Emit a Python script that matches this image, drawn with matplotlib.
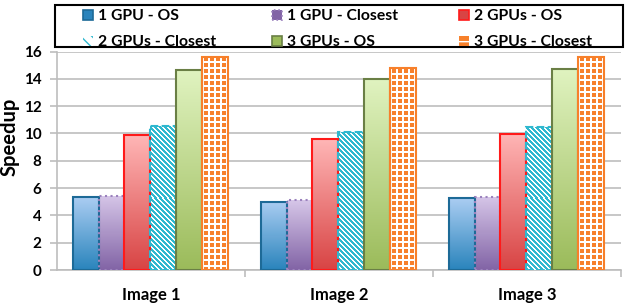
import numpy as np
import matplotlib
matplotlib.use("Agg")
import matplotlib.pyplot as plt
from matplotlib.patches import Patch, Rectangle
from matplotlib.colors import to_rgb

categories = ["Image 1", "Image 2", "Image 3"]
series_names = ["1 GPU - OS", "1 GPU - Closest", "2 GPUs - OS",
                "2 GPUs - Closest", "3 GPUs - OS", "3 GPUs - Closest"]
gpu1_os = [5.32, 5.00, 5.25]
gpu1_closest = [5.42, 5.10, 5.37]
gpu2_os = [9.88, 9.59, 9.96]
gpu2_closest = [10.56, 10.08, 10.49]
gpu3_os = [14.64, 13.96, 14.71]
gpu3_closest = [15.57, 14.76, 15.57]
series_values = [gpu1_os, gpu1_closest, gpu2_os, gpu2_closest, gpu3_os, gpu3_closest]
yticks = [0, 2, 4, 6, 8, 10, 12, 14, 16]

plt.rcParams['font.family'] = ['Lato', 'DejaVu Sans']
plt.rcParams['font.weight'] = 'bold'

W, H = 630, 307
fig = plt.figure(figsize=(W / 100, H / 100), dpi=100)
ax_l, ax_r, ax_b, ax_t = 57, 621, 270, 51.5
ax = fig.add_axes([ax_l / W, 1 - ax_b / H, (ax_r - ax_l) / W, (ax_b - ax_t) / H])
ax.set_xlim(-0.5, 2.5)
ax.set_ylim(0, 16)

px_per_x = (ax_r - ax_l) / 3.0
px_per_y = (ax_b - ax_t) / 16.0

# styles: (kind, top color, bottom color / pattern color, edge color, linestyle)
styles = [
    ("grad", "#aacdf2", "#2a84bc", "#1d6a97", "-"),
    ("grad", "#d6c6e8", "#8264a6", "#9b82bd", ":"),
    ("grad", "#ffb6b6", "#d84444", "#ff1a1a", "-"),
    ("stripe", None, "#2fb8cf", "#2fb8cf", "--"),
    ("grad", "#e0f3c0", "#9bbb5a", "#6a7f45", "-"),
    ("dots", None, "#f7802b", "#f7802b", "-"),
]

bw = 0.137
start = -0.5 + 0.085

def make_img(kind, c1, c2, hpx, wpx):
    hpx = max(int(round(hpx)), 2)
    wpx = max(int(round(wpx)), 2)
    if kind == "grad":
        a = np.array(to_rgb(c1)); b = np.array(to_rgb(c2))
        t = np.linspace(0, 1, hpx)[:, None]
        col = a[None, :] * (1 - t) + b[None, :] * t
        return np.repeat(col[:, None, :], wpx, axis=1)
    pc = np.array(to_rgb(c2))
    img = np.ones((hpx, wpx, 3))
    rr, cc = np.mgrid[0:hpx, 0:wpx]
    rr = hpx - 1 - rr  # anchor at bottom
    if kind == "stripe":
        mask = ((cc + rr) % 5) < 3
    else:
        lx = (cc + 4) % 6
        ly = (rr + 1) % 6
        mask = (lx <= 3) & (ly <= 3)
    img[mask] = pc
    return img

handles = []
for k, (vals, st) in enumerate(zip(series_values, styles)):
    kind, c1, c2, ec, ls = st
    xs = np.arange(len(categories)) + start + k * bw
    bars = ax.bar(xs, vals, width=bw, align='edge', facecolor='none',
                  edgecolor=ec, linewidth=1.5, linestyle=ls, zorder=4,
                  label=series_names[k])
    for x0, v in zip(xs, vals):
        img = make_img(kind, c1, c2, v * px_per_y, bw * px_per_x)
        clip = Rectangle((x0, 0), bw, v, transform=ax.transData,
                         facecolor='none', edgecolor='none')
        ax.add_patch(clip)
        im = ax.imshow(img, extent=(x0, x0 + bw, 0, v), aspect='auto',
                       interpolation='nearest', zorder=3, origin='upper')
        im.set_clip_path(clip)
    if kind == "grad":
        h = Patch(facecolor=c2, edgecolor=ec, linewidth=1.2, linestyle=ls)
    elif kind == "stripe":
        h = Patch(facecolor='white', edgecolor=c2, hatch='\\\\\\', linewidth=0)
    else:
        h = Patch(facecolor=c2, edgecolor='white', hatch='+', linewidth=0)
    handles.append(h)

ax.set_aspect('auto')
ax.set_xlim(-0.5, 2.5)
ax.set_ylim(0, 16)

ax.set_yticks(yticks)
ax.set_yticklabels([str(t) for t in yticks], fontsize=11, fontweight='bold')
ax.yaxis.grid(True, color='#bdbdbd', linewidth=1.2, zorder=0)
ax.set_axisbelow(True)
ax.set_xticks([0, 1, 2])
ax.set_xticklabels(categories, fontsize=12, fontweight='bold')
ax.set_xticks([0.5, 1.5, 2.5], minor=True)
ax.tick_params(axis='x', which='major', length=0, pad=12)
ax.tick_params(axis='x', which='minor', length=5, color='#bdbdbd', width=1.2)
ax.tick_params(axis='y', length=5, color='#bdbdbd', width=1.2, pad=6)
for s in ['top', 'right']:
    ax.spines[s].set_visible(False)
for s in ['left', 'bottom']:
    ax.spines[s].set_color('#bdbdbd')
    ax.spines[s].set_linewidth(1.2)
ax.set_ylabel("Speedup", fontsize=14.5, fontweight='bold')
ax.yaxis.set_label_coords((20 - ax_l) / (ax_r - ax_l), (ax_b - 137) / (ax_b - ax_t))

# legend frame
frame = Rectangle((55 / W, 1 - 47.3 / H), (622.7 - 55) / W, (47.3 - 4.7) / H,
                  transform=fig.transFigure, facecolor='white', edgecolor='black',
                  linewidth=1.5, zorder=0)
fig.patches.append(frame)

col_x = [83, 272, 459]
for c in range(3):
    idx = [c, c + 3]
    fig.legend([handles[i] for i in idx], [series_names[i] for i in idx],
               loc='upper left', bbox_to_anchor=(col_x[c] / W, 1 - 9.5 / H),
               frameon=False, prop={'weight': 'bold', 'size': 11.3},
               handlelength=0.65, handleheight=0.65, handletextpad=0.33,
               borderpad=0, labelspacing=0.75, borderaxespad=0)

fig.savefig("out.png", dpi=100)
